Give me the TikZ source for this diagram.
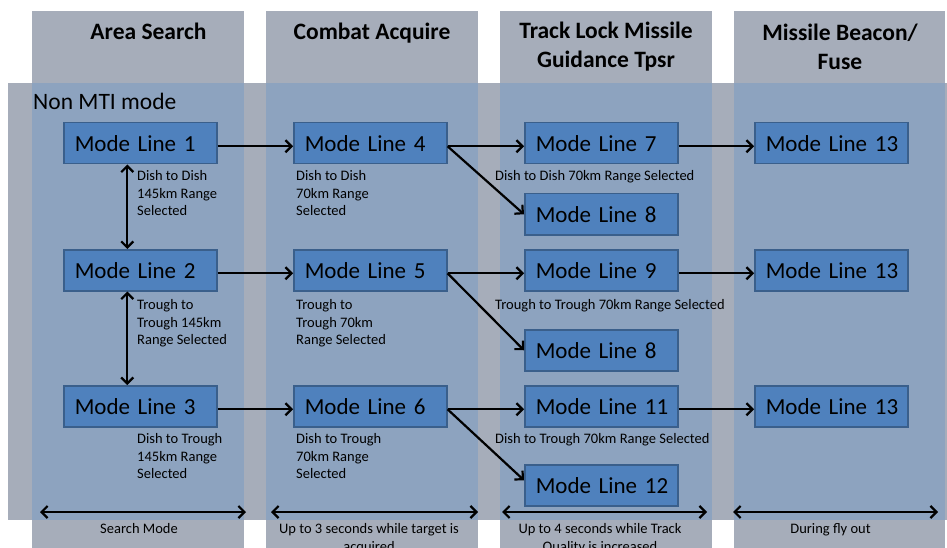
\documentclass[tikz,border=0pt]{standalone}
\usepackage{fontspec}
\setmainfont{Carlito}
\usetikzlibrary{arrows.meta}
\definecolor{colgray}{HTML}{A6ADBA}
\definecolor{colblue}{HTML}{8DA3BF}
\definecolor{boxfill}{HTML}{4F81BD}
\definecolor{boxedge}{HTML}{3A5F8B}
\begin{document}
\begin{tikzpicture}[x=1pt,y=-1pt,
  mode/.style={draw=boxedge, line width=1.5pt, fill=boxfill, minimum height=41pt,
    text width=131pt, inner xsep=11pt, inner ysep=0pt, align=left,
    font=\fontsize{23}{26}\selectfont, anchor=north west},
  conn/.style={line width=2.2pt, -{Straight Barb[length=6pt,width=12pt]}},
  both/.style={line width=2.2pt, {Straight Barb[length=6pt,width=12pt]}-{Straight Barb[length=6pt,width=12pt]}},
  lab/.style={font=\fontsize{14.5}{17.5}\selectfont, align=left, inner sep=0pt, anchor=north west},
  slab/.style={font=\fontsize{14.5}{17.5}\selectfont, inner sep=0pt, anchor=base west},
  blab/.style={font=\fontsize{14.5}{17.5}\selectfont, align=center, inner sep=0pt, anchor=north},
  hdr/.style={font=\bfseries\fontsize{23.5}{29}\selectfont, align=center, inner sep=0pt}
]
\useasboundingbox (0,0) rectangle (947,548);
\clip (0,0) rectangle (947,548);
% columns
\fill[colgray] (32,11) rectangle (244,548);
\fill[colgray] (266,11) rectangle (478,548);
\fill[colgray] (500,11) rectangle (712,548);
\fill[colgray] (734,11) rectangle (945,548);
% band
\fill[colgray] (8,83) rectangle (947,520);
\fill[colblue] (32,83) rectangle (244,520);
\fill[colblue] (266,83) rectangle (478,520);
\fill[colblue] (500,83) rectangle (712,520);
\fill[colblue] (734,83) rectangle (945,520);
% headers
\node[hdr, anchor=base] (h1) at (148.5,39.5) {Area Search};
\node[hdr, anchor=base] (h2) at (372,39.5) {Combat Acquire};
\node[hdr] (h3) at (606,47) {Track Lock Missile\\Guidance Tpsr};
\node[hdr] (h4) at (840,47) {Missile Beacon/\\Fuse};
\node[font=\fontsize{23.5}{28}\selectfont, anchor=base west, inner sep=0pt] (nmti) at (33,110) {Non MTI mode};
% mode boxes
\node[mode] (m1) at (63,122) {Mode~Line~1};
\node[mode] (m2) at (63,249) {Mode~Line~2};
\node[mode] (m3) at (63,385) {Mode~Line~3};
\node[mode] (m4) at (293,122) {Mode~Line~4};
\node[mode] (m5) at (293,249) {Mode~Line~5};
\node[mode] (m6) at (293,385) {Mode~Line~6};
\node[mode] (m7) at (524,122) {Mode~Line~7};
\node[mode] (m8a) at (524,193) {Mode~Line~8};
\node[mode] (m9) at (524,249) {Mode~Line~9};
\node[mode] (m8b) at (524,329) {Mode~Line~8};
\node[mode] (m11) at (524,385) {Mode~Line~11};
\node[mode] (m12) at (524,464) {Mode~Line~12};
\node[mode] (m13a) at (754,122) {Mode~Line~13};
\node[mode] (m13b) at (754,249) {Mode~Line~13};
\node[mode] (m13c) at (754,385) {Mode~Line~13};
% labels
\node[lab] (l1) at (137,170.5) {Dish to Dish\\145km Range\\Selected};
\node[lab] (l2) at (137,299.5) {Trough to\\Trough 145km\\Range Selected};
\node[lab] (l3) at (137,433.5) {Dish to Trough\\145km Range\\Selected};
\node[lab] (l4) at (296,170.5) {Dish to Dish\\70km Range\\Selected};
\node[lab] (l5) at (296,299.5) {Trough to\\Trough 70km\\Range Selected};
\node[lab] (l6) at (296,433.5) {Dish to Trough\\70km Range\\Selected};
\node[slab] (l7) at (495,180.7) {Dish to Dish 70km Range Selected};
\node[slab] (l8) at (495,309.7) {Trough to Trough 70km Range Selected};
\node[slab] (l9) at (495,443.7) {Dish to Trough 70km Range Selected};
% connectors
\draw[conn] ([yshift=-3pt]m1.east) -- ([yshift=-3pt]m4.west);
\draw[conn] ([yshift=-3pt]m2.east) -- ([yshift=-3pt]m5.west);
\draw[conn] ([yshift=-3pt]m3.east) -- ([yshift=-3pt]m6.west);
\draw[conn] ([yshift=-3pt]m4.east) -- ([yshift=-3pt]m7.west);
\draw[conn] ([yshift=-3pt]m5.east) -- ([yshift=-3pt]m9.west);
\draw[conn] ([yshift=-3pt]m6.east) -- ([yshift=-3pt]m11.west);
\draw[conn] ([yshift=-3pt]m4.east) -- (m8a.west);
\draw[conn] ([yshift=-3pt]m5.east) -- (m8b.west);
\draw[conn] ([yshift=-3pt]m6.east) -- ([yshift=5pt]m12.west);
\draw[conn] ([yshift=-3pt]m7.east) -- ([yshift=-3pt]m13a.west);
\draw[conn] ([yshift=-3pt]m9.east) -- ([yshift=-3pt]m13b.west);
\draw[conn] ([yshift=-3pt]m11.east) -- ([yshift=-3pt]m13c.west);
\draw[both] ([xshift=-13pt]m1.south) -- ([xshift=-13pt]m2.north);
\draw[both] ([xshift=-13pt]m2.south) -- ([xshift=-13pt]m3.north);
% bottom spans
\coordinate (b1a) at (40,512); \coordinate (b1b) at (246,512);
\coordinate (b2a) at (271,512); \coordinate (b2b) at (478,512);
\coordinate (b3a) at (502,512); \coordinate (b3b) at (707,512);
\coordinate (b4a) at (733,512); \coordinate (b4b) at (938,512);
\draw[both] (b1a) -- (b1b);
\draw[both] (b2a) -- (b2b);
\draw[both] (b3a) -- (b3b);
\draw[both] (b4a) -- (b4b);
\node[blab] (t1) at (139,523.5) {Search Mode};
\node[blab] (t2) at (369,523.5) {Up to 3 seconds while target is\\acquired};
\node[blab] (t3) at (600,523.5) {Up to 4 seconds while Track\\Quality is increased};
\node[blab] (t4) at (830.5,523.5) {During fly out};
\end{tikzpicture}
\end{document}
